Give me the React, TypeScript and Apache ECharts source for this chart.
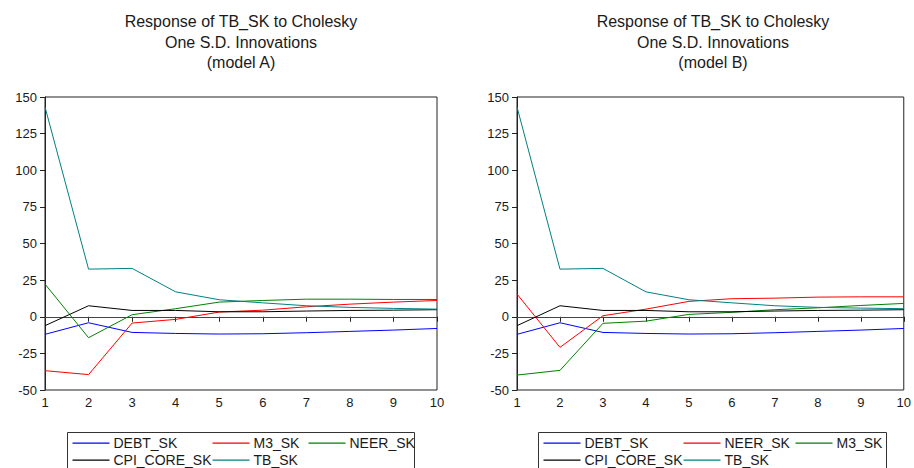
import React, { useEffect, useRef } from "react";
import * as echarts from "echarts";

// Impulse horizon (periods)
const periods = [1, 2, 3, 4, 5, 6, 7, 8, 9, 10];

// Model A responses of TB_SK
const debtA = [-12.0, -4.1, -10.7, -11.4, -11.8, -11.6, -10.9, -10.0, -9.1, -8.0];
const m3A = [-36.8, -39.5, -4.3, -1.8, 3.2, 4.5, 6.8, 8.6, 10.0, 11.1];
const neerA = [22.3, -14.3, 1.4, 5.5, 10.0, 11.1, 12.0, 12.0, 11.8, 11.8];
const cpiA = [-6.1, 7.5, 4.3, 4.3, 3.4, 3.4, 3.9, 4.3, 4.5, 4.8];
const tbA = [143.2, 32.5, 33.0, 17.0, 11.6, 9.5, 7.5, 6.4, 5.7, 5.2];

// Model B responses of TB_SK
const debtB = [-12.0, -4.1, -10.7, -11.4, -11.8, -11.6, -10.9, -10.0, -9.1, -8.0];
const neerB = [15.5, -20.9, 0.7, 5.2, 10.5, 12.3, 12.7, 13.4, 13.6, 13.6];
const m3B = [-39.8, -36.6, -4.5, -3.0, 1.6, 3.0, 4.8, 6.1, 7.7, 9.1];
const cpiB = [-6.1, 7.5, 4.3, 4.3, 3.4, 3.4, 3.9, 4.3, 4.5, 4.8];
const tbB = [143.2, 32.5, 33.0, 17.0, 11.6, 9.5, 7.5, 6.4, 5.9, 5.5];

const yTicks = { min: -50, max: 150, step: 25 };

const titlesA = ["Response of TB_SK to Cholesky", "One S.D. Innovations", "(model A)"];
const titlesB = ["Response of TB_SK to Cholesky", "One S.D. Innovations", "(model B)"];

const FONT = "'Liberation Sans', Arial, Helvetica, sans-serif";
const TEXT = "#1a1a1a";

type Line = { name: string; data: number[]; color: string };

const panelA: Line[] = [
  { name: "DEBT_SK", data: debtA, color: "#0000ff" },
  { name: "M3_SK", data: m3A, color: "#ff0000" },
  { name: "NEER_SK", data: neerA, color: "#008000" },
  { name: "CPI_CORE_SK", data: cpiA, color: "#000000" },
  { name: "TB_SK", data: tbA, color: "#008080" },
];

const panelB: Line[] = [
  { name: "DEBT_SK", data: debtB, color: "#0000ff" },
  { name: "NEER_SK", data: neerB, color: "#ff0000" },
  { name: "M3_SK", data: m3B, color: "#008000" },
  { name: "CPI_CORE_SK", data: cpiB, color: "#000000" },
  { name: "TB_SK", data: tbB, color: "#008080" },
];

const grids = [
  { left: 45, top: 97, width: 392, height: 293 },
  { left: 517, top: 97, width: 391, height: 293 },
];

function legendGraphic(lines: Line[], boxX: number, boxW: number, cols: number[]) {
  const children: any[] = [
    {
      type: "rect",
      shape: { x: boxX, y: 432.5, width: boxW, height: 45 },
      style: { fill: "#fff", stroke: "#333", lineWidth: 1 },
      z: 10,
    },
  ];
  const slots = [
    [0, 0],
    [0, 1],
    [0, 2],
    [1, 0],
    [1, 1],
  ];
  lines.forEach((l, i) => {
    const [row, col] = slots[i];
    const y = row === 0 ? 443 : 459.5;
    const sx = boxX + cols[col];
    // legend key: a thin filled bar in the series colour
    children.push({
      type: "rect",
      shape: { x: sx, y: Math.round(y) - 0.5, width: 37, height: 1.2 },
      style: { fill: l.color, stroke: null },
      z: 11,
    });
    children.push({
      type: "text",
      x: sx + 41,
      y,
      z: 11,
      style: {
        text: l.name,
        font: `14px ${FONT}`,
        fill: TEXT,
        textVerticalAlign: "middle",
        textAlign: "left",
      },
    });
  });
  return { type: "group", children };
}

function titleGraphic(lines: string[], cx: number) {
  return {
    type: "group",
    children: lines.map((t, i) => ({
      type: "text",
      x: cx,
      y: 21.5 + i * 20.6,
      style: {
        text: t,
        font: `16px ${FONT}`,
        fill: TEXT,
        textAlign: "center",
        textVerticalAlign: "middle",
      },
    })),
  };
}

export default function App() {
  const ref = useRef<HTMLDivElement>(null);

  useEffect(() => {
    if (!ref.current) return;
    const chart = echarts.init(ref.current, undefined, { renderer: "svg" });

    const xAxis = grids.map((_, gi) => ({
      type: "category",
      gridIndex: gi,
      data: periods.map(String),
      boundaryGap: false,
      axisLine: { show: true, lineStyle: { color: "#222", width: 1 } },
      axisTick: { show: true, length: 5, lineStyle: { color: "#222" } },
      axisLabel: { color: TEXT, fontSize: 13, fontFamily: FONT, margin: 6 },
      splitLine: { show: false },
    }));

    const yAxis = grids.map((_, gi) => ({
      type: "value",
      gridIndex: gi,
      min: yTicks.min,
      max: yTicks.max,
      interval: yTicks.step,
      axisLine: { show: true, lineStyle: { color: "#222", width: 1 } },
      axisTick: { show: true, length: 5, lineStyle: { color: "#222" } },
      axisLabel: { color: TEXT, fontSize: 13, fontFamily: FONT, margin: 8 },
      splitLine: { show: false },
    }));

    const series: any[] = [];
    [panelA, panelB].forEach((panel, gi) => {
      panel.forEach((l, i) => {
        series.push({
          type: "line",
          name: l.name + (gi === 0 ? "" : " "),
          xAxisIndex: gi,
          yAxisIndex: gi,
          data: l.data,
          showSymbol: false,
          symbol: "none",
          lineStyle: { color: l.color, width: 1 },
          itemStyle: { color: l.color },
          z: 3,
          markLine:
            i === 0
              ? {
                  silent: true,
                  symbol: "none",
                  label: { show: false },
                  lineStyle: { color: "#444", width: 1, type: "solid" },
                  data: [{ yAxis: 0 }],
                  z: 1,
                }
              : undefined,
        });
      });
    });

    chart.setOption({
      animation: false,
      backgroundColor: "#fff",
      grid: grids.map((g) => ({
        ...g,
        show: true,
        borderColor: "#222",
        borderWidth: 1,
        backgroundColor: "transparent",
      })),
      xAxis,
      yAxis,
      series,
      graphic: [
        titleGraphic(titlesA, 241),
        titleGraphic(titlesB, 713),
        legendGraphic(panelA, 67.5, 347, [5, 145, 241]),
        legendGraphic(panelB, 538.5, 348, [5, 145, 257]),
      ],
    });

    return () => chart.dispose();
  }, []);

  return (
    <div
      ref={ref}
      style={{ position: "fixed", left: 0, top: 0, width: 914, height: 468, background: "#fff" }}
    />
  );
}
